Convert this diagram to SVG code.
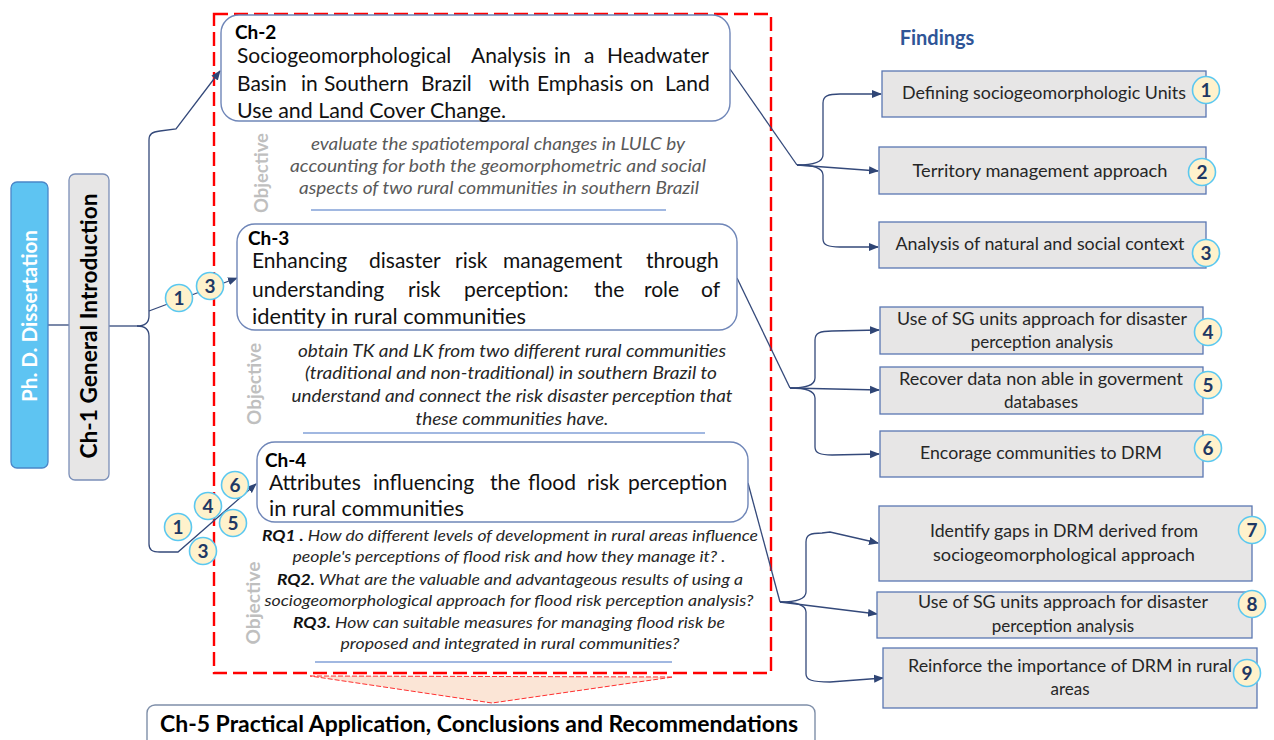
<svg xmlns="http://www.w3.org/2000/svg" width="1274" height="740" viewBox="0 0 1274 740">
<style>
  text { font-family: Lato, "Liberation Sans", sans-serif; }
  .ch { fill: #ffffff; stroke: #6f86b8; stroke-width: 1.4; }
  .lbl { font-weight: bold; font-size: 19px; fill: #000; }
  .body { font-size: 21px; fill: #111; }
  .obj { font-weight: bold; font-size: 18px; fill: #bfbfbf; }
  .ot { font-style: italic; font-size: 17px; fill: #595959; }
  .ot3 { font-style: italic; font-size: 17px; fill: #262626; }
  .rq { font-style: italic; font-size: 16px; fill: #262626; }
  .rqb { font-weight: bold; fill: #111; }
  .fb { fill: #e7e6e6; stroke: #5a77b2; stroke-width: 1.3; }
  .ft { font-size: 17px; fill: #262626; text-anchor: middle; }
  .bd circle { fill: #fff2cc; stroke: #5bc8f0; stroke-width: 1.6; }
  .bd text { font-weight: bold; font-size: 19px; fill: #1f3864; text-anchor: middle; }
  .cn { fill: none; stroke: #34497a; stroke-width: 1.3; }
  .ul { stroke: #4472c4; stroke-width: 1.1; }
</style>
<defs>
  <marker id="ah" markerUnits="userSpaceOnUse" markerWidth="10" markerHeight="10" viewBox="0 0 10 10" refX="9" refY="5" orient="auto">
    <path d="M0,1 L10,5 L0,9 Z" fill="#2f4575"/>
  </marker>
</defs>

<!-- red dashed frame -->
<rect id="frame" x="214" y="14" width="557" height="659" fill="none" stroke="#ff0000" stroke-width="2.4" stroke-dasharray="14,6"/>

<!-- funnel arrow -->
<polygon id="funnel" points="310,676 673,677 492,703" fill="#fbe5d6" stroke="#ff3030" stroke-width="1" stroke-dasharray="5,2"/>

<!-- connectors -->
<g id="connectors">
  <path class="cn" d="M48,325 L69,325"/>
  <path class="cn" d="M109,326 L137,326"/>
  <path class="cn" marker-end="url(#ah)" d="M137,326 C145,326 149,323 149,316 L149,140 C149,134 152,132 160,131 L176,129 L220,71"/>
  <path class="cn" marker-end="url(#ah)" d="M137,326 C145,326 149,329 149,336 L149,544 C149,550 152,552 160,552 L178,552 L256,484"/>
  <path class="cn" marker-end="url(#ah)" d="M149,311 L237,278"/>

  <path class="cn" d="M730,69 L797,165"/>
  <path class="cn" marker-end="url(#ah)" d="M797,165 C812,165 823,163 823,155 L823,103 C823,96 828,94 840,94 L881,94"/>
  <path class="cn" marker-end="url(#ah)" d="M797,165 L878,171"/>
  <path class="cn" marker-end="url(#ah)" d="M797,165 C812,165 823,167 823,175 L823,239 C823,245 828,247 840,247 L878,247"/>

  <path class="cn" d="M737,278 L790,388"/>
  <path class="cn" marker-end="url(#ah)" d="M790,388 C805,388 815,386 815,378 L815,340 C815,333 820,331 832,331 L879,330"/>
  <path class="cn" marker-end="url(#ah)" d="M790,388 L879,390"/>
  <path class="cn" marker-end="url(#ah)" d="M790,388 C805,388 815,390 815,398 L815,447 C815,453 820,455 832,455 L879,454"/>

  <path class="cn" d="M748,483 L780,602"/>
  <path class="cn" marker-end="url(#ah)" d="M780,602 C795,602 806,600 806,592 L806,542 C806,535 810,533 822,533 L830,532 L878,543"/>
  <path class="cn" marker-end="url(#ah)" d="M780,602 L877,614"/>
  <path class="cn" marker-end="url(#ah)" d="M780,602 C795,602 806,604 806,612 L806,674 C806,680 812,682 830,682 L883,678"/>
</g>

<!-- Ph.D. -->
<g id="phd">
  <rect x="11" y="182" width="37" height="286" rx="6" fill="#5ec4f2" stroke="#4a86c8" stroke-width="1.3"/>
  <text transform="translate(37,316) rotate(-90)" text-anchor="middle" font-weight="bold" font-size="21" fill="#ffffff" textLength="172" lengthAdjust="spacingAndGlyphs">Ph. D. Dissertation</text>
</g>

<!-- Ch-1 -->
<g id="ch1">
  <rect x="69" y="174" width="40" height="306" rx="6" fill="#e7e6e6" stroke="#7b8fb8" stroke-width="1.3"/>
  <text transform="translate(97,326) rotate(-90)" text-anchor="middle" font-weight="bold" font-size="22" fill="#000" textLength="265" lengthAdjust="spacingAndGlyphs">Ch-1 General Introduction</text>
</g>

<!-- Ch-2 -->
<g id="ch2">
  <rect class="ch" x="221" y="15" width="509" height="106" rx="18"/>
  <text class="lbl" x="235" y="39">Ch-2</text>
  <text class="body" y="63"><tspan x="237">Sociogeomorphological</tspan><tspan x="471">Analysis</tspan><tspan x="554">in</tspan><tspan x="584">a</tspan><tspan x="607">Headwater</tspan></text>
  <text class="body" y="91"><tspan x="237">Basin</tspan><tspan x="301">in</tspan><tspan x="324">Southern</tspan><tspan x="421">Brazil</tspan><tspan x="489">with</tspan><tspan x="537">Emphasis</tspan><tspan x="630">on</tspan><tspan x="665">Land</tspan></text>
  <text class="body" x="237" y="118" textLength="269" lengthAdjust="spacingAndGlyphs">Use and Land Cover Change.</text>
</g>
<g id="obj2">
  <text class="obj" transform="translate(268,173) rotate(-90)" text-anchor="middle" textLength="80" lengthAdjust="spacingAndGlyphs">Objective</text>
  <text class="ot" x="498" y="150" text-anchor="middle" textLength="374" lengthAdjust="spacingAndGlyphs">evaluate the spatiotemporal changes in LULC by</text>
  <text class="ot" x="498" y="172" text-anchor="middle" textLength="416" lengthAdjust="spacingAndGlyphs">accounting for both the geomorphometric and social</text>
  <text class="ot" x="499" y="194" text-anchor="middle" textLength="400" lengthAdjust="spacingAndGlyphs">aspects of two rural communities in southern Brazil</text>
  <line class="ul" x1="311" y1="210" x2="666" y2="210"/>
</g>

<!-- Ch-3 -->
<g id="ch3">
  <rect class="ch" x="237" y="224" width="500" height="106" rx="18"/>
  <text class="lbl" x="248" y="245">Ch-3</text>
  <text class="body" y="268"><tspan x="252">Enhancing</tspan><tspan x="369">disaster</tspan><tspan x="455">risk</tspan><tspan x="503">management</tspan><tspan x="646">through</tspan></text>
  <text class="body" y="297"><tspan x="252">understanding</tspan><tspan x="408">risk</tspan><tspan x="464">perception:</tspan><tspan x="594">the</tspan><tspan x="644">role</tspan><tspan x="701">of</tspan></text>
  <text class="body" x="252" y="324" textLength="274" lengthAdjust="spacingAndGlyphs">identity in rural communities</text>
</g>
<g id="obj3">
  <text class="obj" transform="translate(261,384) rotate(-90)" text-anchor="middle" textLength="82" lengthAdjust="spacingAndGlyphs">Objective</text>
  <text class="ot3" x="512" y="357" text-anchor="middle" textLength="428" lengthAdjust="spacingAndGlyphs">obtain TK and LK from two different rural communities</text>
  <text class="ot3" x="511" y="379" text-anchor="middle" textLength="412" lengthAdjust="spacingAndGlyphs">(traditional and non-traditional) in southern Brazil to</text>
  <text class="ot3" x="512" y="402" text-anchor="middle" textLength="441" lengthAdjust="spacingAndGlyphs">understand and connect the risk disaster perception that</text>
  <text class="ot3" x="512" y="425" text-anchor="middle" textLength="193" lengthAdjust="spacingAndGlyphs">these communities have.</text>
  <line class="ul" x1="303" y1="433" x2="705" y2="433"/>
</g>

<!-- Ch-4 -->
<g id="ch4">
  <rect class="ch" x="257" y="442" width="491" height="80" rx="18"/>
  <text class="lbl" x="265" y="467">Ch-4</text>
  <text class="body" y="490" font-size="22"><tspan x="269">Attributes</tspan><tspan x="373">influencing</tspan><tspan x="490">the</tspan><tspan x="528">flood</tspan><tspan x="587">risk</tspan><tspan x="628">perception</tspan></text>
  <text class="body" x="269" y="516" font-size="22" textLength="195" lengthAdjust="spacingAndGlyphs">in rural communities</text>
</g>
<g id="obj4">
  <text class="obj" transform="translate(260,603) rotate(-90)" text-anchor="middle" textLength="83" lengthAdjust="spacingAndGlyphs">Objective</text>
  <text class="rq" x="510" y="541" text-anchor="middle" textLength="496" lengthAdjust="spacingAndGlyphs"><tspan class="rqb">RQ1 .</tspan> How do different levels of development in rural areas influence</text>
  <text class="rq" x="509" y="562" text-anchor="middle" textLength="433" lengthAdjust="spacingAndGlyphs">people's perceptions of flood risk and how they manage it? .</text>
  <text class="rq" x="510" y="585" text-anchor="middle" textLength="466" lengthAdjust="spacingAndGlyphs"><tspan class="rqb">RQ2.</tspan> What are the valuable and advantageous results of using a</text>
  <text class="rq" x="509" y="606" text-anchor="middle" textLength="489" lengthAdjust="spacingAndGlyphs">sociogeomorphological approach for flood risk perception analysis?</text>
  <text class="rq" x="509" y="628" text-anchor="middle" textLength="432" lengthAdjust="spacingAndGlyphs"><tspan class="rqb">RQ3.</tspan> How can suitable measures for managing flood risk be</text>
  <text class="rq" x="510" y="649" text-anchor="middle" textLength="339" lengthAdjust="spacingAndGlyphs">proposed and integrated in rural communities?</text>
  <line class="ul" x1="315" y1="662" x2="672" y2="662"/>
</g>

<!-- Ch-5 -->
<g id="ch5">
  <rect x="147" y="705" width="668" height="45" rx="8" fill="#ffffff" stroke="#7f8fa9" stroke-width="1.4"/>
  <text x="160" y="732" font-weight="bold" font-size="22" fill="#000" textLength="638" lengthAdjust="spacingAndGlyphs">Ch-5 Practical Application, Conclusions and Recommendations</text>
</g>

<!-- Findings title -->
<text id="findings-title" x="937" y="45" text-anchor="middle" font-weight="bold" font-size="20" fill="#2f5597">Findings</text>

<!-- Findings boxes -->
<g id="f1"><rect class="fb" x="882" y="71" width="324" height="46"/><text class="ft" x="1044" y="99" textLength="284" lengthAdjust="spacingAndGlyphs">Defining sociogeomorphologic Units</text></g>
<g id="f2"><rect class="fb" x="879" y="147" width="327" height="47"/><text class="ft" x="1040" y="177" textLength="255" lengthAdjust="spacingAndGlyphs">Territory management approach</text></g>
<g id="f3"><rect class="fb" x="879" y="222" width="327" height="46"/><text class="ft" x="1040" y="250" textLength="289" lengthAdjust="spacingAndGlyphs">Analysis of natural and social context</text></g>
<g id="f4"><rect class="fb" x="880" y="307" width="323" height="47"/><text class="ft" x="1042" y="325" textLength="290" lengthAdjust="spacingAndGlyphs">Use of SG units approach for disaster</text><text class="ft" x="1042" y="348">perception analysis</text></g>
<g id="f5"><rect class="fb" x="880" y="367" width="323" height="47"/><text class="ft" x="1041" y="385" textLength="284" lengthAdjust="spacingAndGlyphs">Recover data non able in goverment</text><text class="ft" x="1041" y="408">databases</text></g>
<g id="f6"><rect class="fb" x="880" y="431" width="323" height="46"/><text class="ft" x="1041" y="459" textLength="242" lengthAdjust="spacingAndGlyphs">Encorage communities to DRM</text></g>
<g id="f7"><rect class="fb" x="879" y="506" width="373" height="75"/><text class="ft" x="1064" y="537" textLength="268" lengthAdjust="spacingAndGlyphs">Identify gaps in DRM derived from</text><text class="ft" x="1064" y="561" textLength="262" lengthAdjust="spacingAndGlyphs">sociogeomorphological approach</text></g>
<g id="f8"><rect class="fb" x="877" y="592" width="375" height="46"/><text class="ft" x="1063" y="608" textLength="290" lengthAdjust="spacingAndGlyphs">Use of SG units approach for disaster</text><text class="ft" x="1063" y="632">perception analysis</text></g>
<g id="f9"><rect class="fb" x="883" y="648" width="374" height="60"/><text class="ft" x="1070" y="672" textLength="324" lengthAdjust="spacingAndGlyphs">Reinforce the importance of DRM in rural</text><text class="ft" x="1070" y="695">areas</text></g>

<!-- badges -->
<g class="bd" id="badges-left">
  <g transform="translate(179,298)"><circle r="13.5"/><text y="7">1</text></g>
  <g transform="translate(210,286)"><circle r="13.5"/><text y="7">3</text></g>
  <g transform="translate(178,527)"><circle r="13.5"/><text y="7">1</text></g>
  <g transform="translate(203,551)"><circle r="13.5"/><text y="7">3</text></g>
  <g transform="translate(208,506)"><circle r="13.5"/><text y="7">4</text></g>
  <g transform="translate(233,523)"><circle r="13.5"/><text y="7">5</text></g>
  <g transform="translate(235,485)"><circle r="13.5"/><text y="7">6</text></g>
</g>
<g class="bd" id="badges-right">
  <g transform="translate(1206,90)"><circle r="13.5"/><text y="7">1</text></g>
  <g transform="translate(1202,172)"><circle r="13.5"/><text y="7">2</text></g>
  <g transform="translate(1206,253)"><circle r="13.5"/><text y="7">3</text></g>
  <g transform="translate(1208,332)"><circle r="13.5"/><text y="7">4</text></g>
  <g transform="translate(1208,385)"><circle r="13.5"/><text y="7">5</text></g>
  <g transform="translate(1208,448)"><circle r="13.5"/><text y="7">6</text></g>
  <g transform="translate(1252,530)"><circle r="13.5"/><text y="7">7</text></g>
  <g transform="translate(1252,604)"><circle r="13.5"/><text y="7">8</text></g>
  <g transform="translate(1247,673)"><circle r="13.5"/><text y="7">9</text></g>
</g>
</svg>
